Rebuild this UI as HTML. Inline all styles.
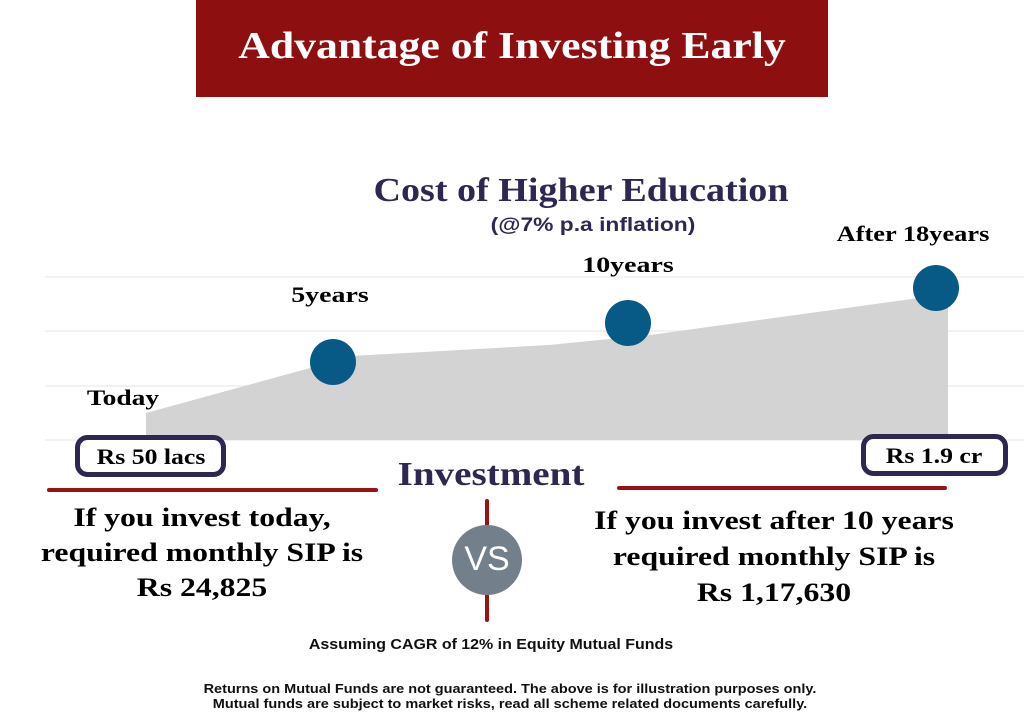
<!DOCTYPE html>
<html><head><style>
body{margin:0;width:1024px;height:724px;background:#fff;position:relative;overflow:hidden;font-family:"Liberation Serif",serif}
.a{position:absolute;white-space:nowrap}
.c{text-align:center;transform:translateX(-50%)}
.b{font-weight:bold}
</style></head><body>
<div class="a" style="left:196px;top:0;width:632px;height:97px;background:#8d0f10"></div>
<div class="a b" style="left:512px;top:24px;font-size:38px;color:#fff;text-align:center;transform:translateX(-50%) scaleX(1.15)">Advantage of Investing Early</div>
<svg class="a" style="left:0;top:0" width="1024" height="724">
<g stroke="#eeeeee" stroke-width="1.5">
<line x1="45" y1="277" x2="1024" y2="277"/><line x1="45" y1="331" x2="1024" y2="331"/>
<line x1="45" y1="386" x2="1024" y2="386"/><line x1="45" y1="440" x2="1024" y2="440"/></g>
<polygon points="146,413 310,368 333,357 549,345 650,335 948,294 948,440 146,440" fill="#d3d3d3"/>
<g fill="#065a85"><circle cx="333" cy="362" r="23"/><circle cx="628" cy="323" r="23"/><circle cx="936" cy="288" r="23"/></g>
<rect x="77.5" y="437.5" width="146" height="37" rx="10" fill="#fff" stroke="#2f2752" stroke-width="5"/>
<rect x="863.5" y="436.5" width="142" height="37" rx="10" fill="#fff" stroke="#2f2752" stroke-width="5"/>
<g stroke="#9b1214" stroke-width="4" stroke-linecap="round">
<line x1="49" y1="490" x2="376" y2="490"/><line x1="619" y1="488" x2="945" y2="488"/>
<line x1="487" y1="501" x2="487" y2="620"/></g>
<circle cx="487" cy="560" r="35" fill="#737f8a"/>
</svg>
<div class="a c" style="left:487px;top:540px;font-family:'Liberation Sans',sans-serif;font-size:34px;color:#fff">VS</div>
<div class="a b" style="left:581px;top:172px;font-size:34px;color:#2f2752;transform:translateX(-50%) scaleX(1.12)">Cost of Higher Education</div>
<div class="a b" style="left:593px;top:215px;font-size:19px;color:#2f2752;font-family:'Liberation Sans',sans-serif;transform:translateX(-50%) scaleX(1.2)">(@7% p.a inflation)</div>
<div class="a b" style="left:330px;top:282px;font-size:22px;transform:translateX(-50%) scaleX(1.27)">5years</div>
<div class="a b" style="left:628px;top:252px;font-size:22px;transform:translateX(-50%) scaleX(1.27)">10years</div>
<div class="a b" style="left:913px;top:221px;font-size:22px;transform:translateX(-50%) scaleX(1.2)">After 18years</div>
<div class="a b" style="left:123px;top:385px;font-size:22px;transform:translateX(-50%) scaleX(1.25)">Today</div>
<div class="a b" style="left:151px;top:444px;font-size:22px;transform:translateX(-50%) scaleX(1.17)">Rs 50 lacs</div>
<div class="a b" style="left:934px;top:443px;font-size:22px;transform:translateX(-50%) scaleX(1.17)">Rs 1.9 cr</div>
<div class="a b" style="left:491px;top:456px;font-size:34px;color:#2f2752;transform:translateX(-50%) scaleX(1.15)">Investment</div>
<div class="a b" style="left:202px;top:500px;font-size:26px;line-height:35px;text-align:center;transform:translateX(-50%) scaleX(1.22)">If you invest today,<br>required monthly SIP is<br>Rs 24,825</div>
<div class="a b" style="left:774px;top:503px;font-size:26px;line-height:36px;text-align:center;transform:translateX(-50%) scaleX(1.22)">If you invest after 10 years<br>required monthly SIP is<br>Rs 1,17,630</div>
<div class="a" style="left:491px;top:637px;font-size:14.5px;font-family:'Liberation Sans',sans-serif;font-weight:bold;color:#111;transform:translateX(-50%) scaleX(1.1)">Assuming CAGR of 12% in Equity Mutual Funds</div>
<div class="a" style="left:510px;top:682px;font-size:12.5px;line-height:15px;font-family:'Liberation Sans',sans-serif;font-weight:bold;color:#111;text-align:center;transform:translateX(-50%) scaleX(1.16)">Returns on Mutual Funds are not guaranteed. The above is for illustration purposes only.<br>Mutual funds are subject to market risks, read all scheme related documents carefully.</div>
</body></html>
